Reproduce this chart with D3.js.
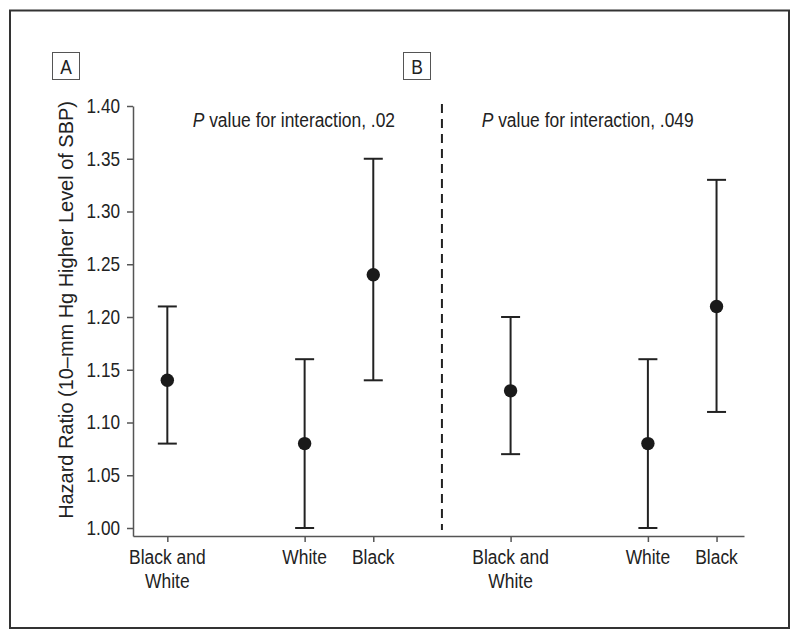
<!DOCTYPE html>
<html>
<head>
<meta charset="utf-8">
<script src="https://cdn.jsdelivr.net/npm/d3@7"></script>
<style>
  body { margin: 0; background: #fff; }
  svg text { font-family: "Liberation Sans", Arial, sans-serif; fill: #222; }
</style>
</head>
<body>
<svg id="chart" width="800" height="639"></svg>
<script>
// ---- data ----
const panels = ["A", "B"];
const pValues = [".02", ".049"];
const categories = ["Black and White", "White", "Black"];
const hrA = [1.14, 1.08, 1.24];
const lowA = [1.08, 1.00, 1.14];
const highA = [1.21, 1.16, 1.35];
const hrB = [1.13, 1.08, 1.21];
const lowB = [1.07, 1.00, 1.11];
const highB = [1.20, 1.16, 1.33];
const yTicks = [1.00, 1.05, 1.10, 1.15, 1.20, 1.25, 1.30, 1.35, 1.40];
const yLabel = "Hazard Ratio (10–mm Hg Higher Level of SBP)";

// layout: slot index of each category within a panel (gaps between groups)
const catSlot = d3.scaleOrdinal().domain(categories).range([0, 2, 3]);
const panelSpan = 5;

const rows = [];
panels.forEach((p, pi) => {
  const hr = pi === 0 ? hrA : hrB, lo = pi === 0 ? lowA : lowB, hi = pi === 0 ? highA : highB;
  categories.forEach((c, ci) => {
    rows.push({ panel: p, cat: c, slot: pi * panelSpan + catSlot(c), hr: hr[ci], lo: lo[ci], hi: hi[ci] });
  });
});

const svg = d3.select("#chart");
const FS = 21;    // font size
const TX = 0.83;  // horizontal condensing of the typeface

// outer frame
svg.append("rect").attr("x", 10).attr("y", 10.5).attr("width", 779).attr("height", 617.5)
  .attr("fill", "none").attr("stroke", "#333").attr("stroke-width", 2);

const x = d3.scaleLinear().domain([-0.5, 8.4]).range([133, 744]);
const y = d3.scaleLinear().domain([0.99242, 1.40]).range([536, 106]);

// y axis
const yAxis = svg.append("g").attr("transform", "translate(133,0)")
  .call(d3.axisLeft(y).tickValues(yTicks).tickFormat(d3.format(".2f")).tickSize(6).tickSizeOuter(0).tickPadding(7));
yAxis.select(".domain").attr("stroke", "#555").attr("stroke-width", 1.5);
yAxis.selectAll(".tick line").attr("stroke", "#555").attr("stroke-width", 1.5);
yAxis.selectAll(".tick text").attr("font-size", 20).attr("fill", "#222")
  .each(function () {
    const t = d3.select(this);
    const xx = +t.attr("x");
    t.attr("x", null).attr("transform", `translate(${xx},0) scale(0.86,1)`);
  });

// x axis
const xAxis = svg.append("g").attr("transform", "translate(0,536)")
  .call(d3.axisBottom(x).tickValues(rows.map(r => r.slot)).tickFormat("").tickSize(6).tickSizeOuter(0));
xAxis.select(".domain").attr("stroke", "#555").attr("stroke-width", 1.5);
xAxis.selectAll(".tick line").attr("stroke", "#555").attr("stroke-width", 1.5);

// x category labels (two lines for "Black and White")
const lab = svg.append("g");
rows.forEach(r => {
  const lines = r.cat === "Black and White" ? ["Black and", "White"] : [r.cat];
  lines.forEach((ln, i) => {
    lab.append("text").attr("transform", `translate(${x(r.slot)},${564 + i * 24}) scale(${TX},1)`)
      .attr("text-anchor", "middle").attr("font-size", FS).text(ln);
  });
});

// y axis title
svg.append("text").attr("transform", `translate(73,310) rotate(-90) scale(0.95,1)`)
  .attr("text-anchor", "middle").attr("font-size", FS).text(yLabel);

// dashed separator between panels
svg.append("line").attr("x1", x(4)).attr("x2", x(4)).attr("y1", 104).attr("y2", 530)
  .attr("stroke", "#222").attr("stroke-width", 2).attr("stroke-dasharray", "9,6");

// panel labels & P value notes
panels.forEach((p, pi) => {
  const bx = pi === 0 ? 52 : 403;
  svg.append("rect").attr("x", bx + 0.5).attr("y", 52.5).attr("width", 27).attr("height", 27)
    .attr("fill", "#fff").attr("stroke", "#555").attr("stroke-width", 1);
  svg.append("text").attr("transform", `translate(${bx + 14},74) scale(${TX},1)`)
    .attr("text-anchor", "middle").attr("font-size", FS).text(p);
  const tx = pi === 0 ? 192.7 : 481.7;
  const t = svg.append("text").attr("transform", `translate(${tx},127) scale(${TX},1)`)
    .attr("font-size", FS);
  t.append("tspan").attr("font-style", "italic").text("P");
  t.append("tspan").text(" value for interaction, " + pValues[pi]);
});

// error bars
const capW = 19;
const g = svg.append("g").attr("stroke", "#222").attr("stroke-width", 2);
g.selectAll(".v").data(rows).join("line")
  .attr("x1", d => x(d.slot)).attr("x2", d => x(d.slot))
  .attr("y1", d => y(d.lo)).attr("y2", d => y(d.hi));
g.selectAll(".hi").data(rows).join("line")
  .attr("x1", d => x(d.slot) - capW / 2).attr("x2", d => x(d.slot) + capW / 2)
  .attr("y1", d => y(d.hi)).attr("y2", d => y(d.hi));
g.selectAll(".lo").data(rows).join("line")
  .attr("x1", d => x(d.slot) - capW / 2).attr("x2", d => x(d.slot) + capW / 2)
  .attr("y1", d => y(d.lo)).attr("y2", d => y(d.lo));

svg.append("g").selectAll("circle").data(rows).join("circle")
  .attr("cx", d => x(d.slot)).attr("cy", d => y(d.hr)).attr("r", 6.7).attr("fill", "#1a1a1a");
</script>
</body>
</html>
